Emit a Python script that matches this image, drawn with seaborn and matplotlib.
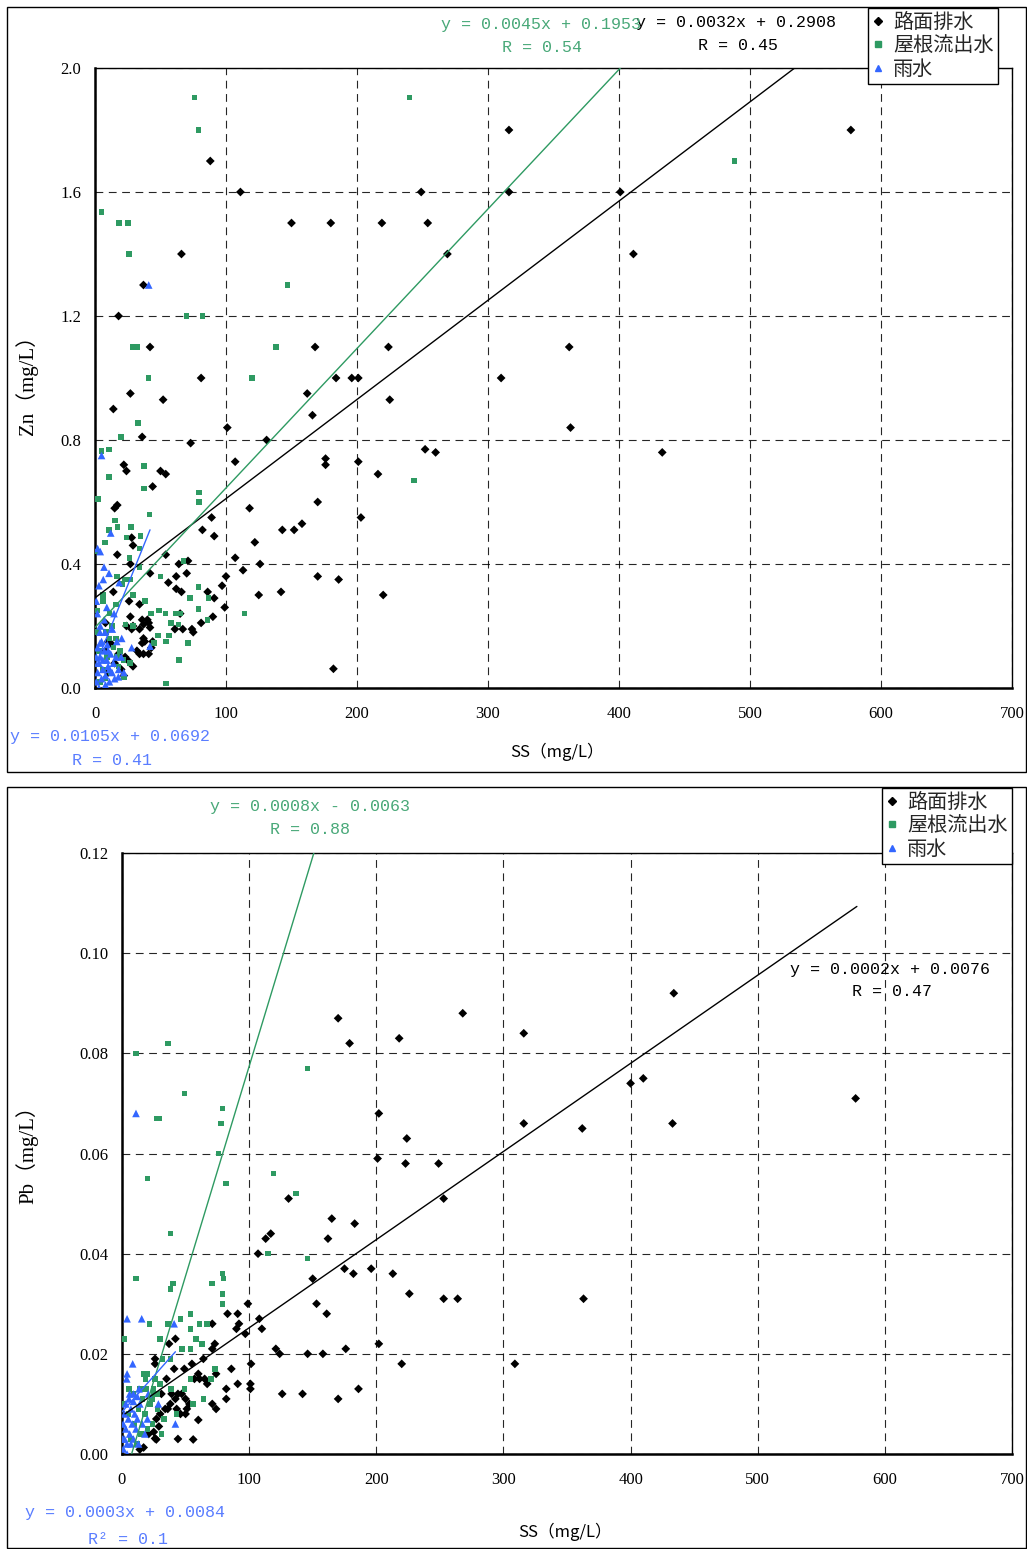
import numpy as np
import pandas as pd
import matplotlib
matplotlib.use("Agg")
import matplotlib.pyplot as plt
from matplotlib.patches import Rectangle
from matplotlib.lines import Line2D
import seaborn as sns

# ---------------------------------------------------------------- data
SERIES = ["路面排水", "屋根流出水", "雨水"]

# Zn vs SS
zn_road_ss = [577, 316, 88, 111, 249, 316, 401, 66, 269, 411, 150, 180, 219, 254, 18, 37, 42, 168, 224, 362,
              27, 81, 184, 196, 201, 310, 14, 52, 225, 162, 36, 73, 101, 166, 131, 363, 252, 260, 433, 176,
              176, 201, 107, 216, 22, 24, 50, 54, 44, 89, 118, 170, 203, 82, 91, 143, 152, 158, 15, 17,
              122, 29, 17, 28, 54, 27, 107, 113, 126, 64, 71, 70, 42, 62, 56, 62, 66, 100, 97, 170,
              186, 142, 125, 220, 86, 91, 99, 90, 81, 74, 75, 67, 65, 61, 14, 26, 34, 27, 36, 40,
              41, 37, 29, 24, 28, 34, 42, 8, 10, 13, 37, 38, 36, 44, 43, 32, 37, 41, 34, 18,
              23, 25, 29, 182, 10, 15, 20, 8, 22]
zn_road = [1.80, 1.80, 1.70, 1.60, 1.60, 1.60, 1.60, 1.40, 1.40, 1.40, 1.50, 1.50, 1.50, 1.50, 1.20, 1.30, 1.10, 1.10, 1.10, 1.10,
           0.95, 1.00, 1.00, 1.00, 1.00, 1.00, 0.90, 0.93, 0.93, 0.95, 0.81, 0.79, 0.84, 0.88, 0.80, 0.84, 0.77, 0.76, 0.76, 0.74,
           0.72, 0.73, 0.73, 0.69, 0.72, 0.70, 0.70, 0.69, 0.65, 0.55, 0.58, 0.60, 0.55, 0.51, 0.49, 0.51, 0.51, 0.53, 0.58, 0.59,
           0.47, 0.46, 0.43, 0.485, 0.43, 0.40, 0.42, 0.38, 0.40, 0.40, 0.41, 0.37, 0.37, 0.36, 0.34, 0.32, 0.31, 0.36, 0.33, 0.36,
           0.35, 0.31, 0.30, 0.30, 0.31, 0.29, 0.26, 0.23, 0.21, 0.19, 0.18, 0.19, 0.24, 0.19, 0.31, 0.28, 0.27, 0.23, 0.22, 0.22,
           0.21, 0.205, 0.20, 0.20, 0.19, 0.19, 0.195, 0.21, 0.15, 0.14, 0.16, 0.15, 0.145, 0.15, 0.13, 0.12, 0.11, 0.11, 0.11, 0.11,
           0.10, 0.09, 0.07, 0.062, 0.05, 0.08, 0.06, 0.12, 0.04]

zn_roof_ss = [76, 79, 240, 488, 5, 18.5, 25, 26, 70, 82, 147, 29, 32, 138, 41, 120, 33, 20, 243.5,
              10.7, 5, 37.6, 10.7, 37.4, 2.5, 79.6, 79.6, 41.5, 15.3, 10.7, 17.3, 27.3, 24.2, 34.9, 7.6, 33.8,
              26.2, 2.5, 33.8, 67.4, 16.6, 22.9, 21, 26.7, 50, 79, 29.2, 72.5, 86.5, 79, 86, 38, 16, 5.9,
              10.9, 114, 42.7, 48.9, 53.7, 61.3, 65.4, 23.4, 29.2, 58, 63.6, 2, 8.2, 48.3, 56.5, 54.2, 45, 71.2,
              64, 54.4, 21.6, 16.6, 26.7, 22, 3, 6, 9, 12, 14, 18, 4, 8, 11, 13, 2, 6, 16, 19]
zn_roof = [1.905, 1.80, 1.905, 1.70, 1.535, 1.50, 1.50, 1.40, 1.20, 1.20, 1.30, 1.10, 1.10, 1.10, 1.00, 1.00, 0.855, 0.81, 0.67,
           0.77, 0.765, 0.716, 0.68, 0.644, 0.61, 0.63, 0.60, 0.56, 0.54, 0.51, 0.52, 0.52, 0.485, 0.49, 0.47, 0.45,
           0.42, 0.44, 0.39, 0.41, 0.36, 0.35, 0.335, 0.35, 0.36, 0.325, 0.30, 0.29, 0.29, 0.255, 0.22, 0.28, 0.27, 0.28,
           0.24, 0.24, 0.24, 0.25, 0.24, 0.24, 0.24, 0.205, 0.20, 0.21, 0.205, 0.18, 0.18, 0.17, 0.17, 0.15, 0.145, 0.145,
           0.09, 0.015, 0.09, 0.10, 0.08, 0.036, 0.12, 0.06, 0.10, 0.05, 0.13, 0.07, 0.02, 0.03, 0.16, 0.20, 0.25, 0.30, 0.16, 0.12]

zn_rain_ss = [41, 5, 2, 4, 12, 6.9, 10.7, 6.3, 18.5, 14.5, 1.8, 13.2, 20.4, 28, 42, 3.8, 7.6, 3.8, 9.4, 16.6, 17.8,
              1, 2, 3, 4, 5, 6, 7, 8, 9, 10, 11, 12, 13, 14, 15, 16, 2, 5, 1, 3, 8, 11, 6, 10, 18, 20, 22,
              4, 7, 1, 3, 9]
zn_rain = [1.30, 0.75, 0.45, 0.44, 0.50, 0.39, 0.37, 0.35, 0.34, 0.24, 0.24, 0.19, 0.16, 0.13, 0.135, 0.18, 0.18, 0.145, 0.14, 0.15, 0.036,
           0.02, 0.05, 0.08, 0.10, 0.03, 0.06, 0.12, 0.04, 0.09, 0.07, 0.02, 0.11, 0.05, 0.08, 0.03, 0.10, 0.13, 0.15, 0.10, 0.0, 0.01, 0.06, 0.09, 0.12, 0.06, 0.10, 0.05,
           0.20, 0.22, 0.28, 0.33, 0.26]

# Pb vs SS
pb_road_ss = [434, 268, 170, 179, 316, 218, 577, 410, 400, 316, 433, 362, 202, 224, 201, 223, 249, 253, 131, 117,
              165, 183, 162, 113, 107, 213, 175, 182, 196, 150, 226, 253, 264, 363, 153, 161, 99, 202, 176, 146,
              158, 124, 220, 309, 101, 126, 142, 170, 186,
              83, 91, 92, 90, 97, 108, 110, 71, 73, 71, 42, 37, 26, 26, 41, 49, 55, 64, 60, 61,
              57, 65, 67, 74, 86, 91, 101, 82, 82, 74, 71, 101.5, 121,
              35, 31, 39, 44, 47, 50, 42, 38, 34, 43, 51, 53, 50, 46, 36, 30, 27, 29, 25, 21,
              26, 27, 44, 60, 56, 17, 14]
pb_road = [0.092, 0.088, 0.087, 0.082, 0.084, 0.083, 0.071, 0.075, 0.074, 0.066, 0.066, 0.065, 0.068, 0.063, 0.059, 0.058, 0.058, 0.051, 0.051, 0.044,
           0.047, 0.046, 0.043, 0.043, 0.040, 0.036, 0.037, 0.036, 0.037, 0.035, 0.032, 0.031, 0.031, 0.031, 0.030, 0.028, 0.030, 0.022, 0.021, 0.020,
           0.020, 0.020, 0.018, 0.018, 0.014, 0.012, 0.012, 0.011, 0.013,
           0.028, 0.028, 0.026, 0.025, 0.024, 0.027, 0.025, 0.026, 0.022, 0.021, 0.023, 0.022, 0.019, 0.018, 0.017, 0.017, 0.018, 0.019, 0.016, 0.015,
           0.015, 0.015, 0.014, 0.016, 0.017, 0.014, 0.013, 0.013, 0.011, 0.009, 0.010, 0.018, 0.021,
           0.015, 0.012, 0.012, 0.012, 0.012, 0.011, 0.011, 0.010, 0.009, 0.009, 0.009, 0.010, 0.008, 0.008, 0.009, 0.008, 0.007, 0.0055, 0.0044, 0.004,
           0.0031, 0.0029, 0.003, 0.0068, 0.0029, 0.0013, 0.0009]

pb_roof_ss = [11, 36, 49, 146, 27, 29, 79, 78, 76, 20, 82, 119, 137, 38, 146, 115, 11, 79, 80, 40,
              38, 71, 79, 79, 54, 61, 67, 46, 36, 21.5, 2, 30, 54, 58, 63, 47, 54, 38, 32, 73,
              70, 17.5, 20, 18.6, 54, 49, 38.5, 64, 56, 43, 33,
              2, 5, 9, 13, 16, 19, 22, 25, 28, 24, 20, 15, 10, 7, 12, 18, 26, 30, 14, 31,
              24.7, 28, 23.4, 5.5, 1]
pb_roof = [0.080, 0.082, 0.072, 0.077, 0.067, 0.067, 0.069, 0.066, 0.060, 0.055, 0.054, 0.056, 0.052, 0.044, 0.039, 0.040, 0.035, 0.036, 0.035, 0.034,
           0.033, 0.034, 0.032, 0.030, 0.028, 0.026, 0.026, 0.027, 0.026, 0.026, 0.023, 0.023, 0.025, 0.023, 0.022, 0.021, 0.021, 0.019, 0.019, 0.017,
           0.015, 0.016, 0.016, 0.015, 0.015, 0.013, 0.013, 0.011, 0.010, 0.008, 0.007,
           0.010, 0.008, 0.012, 0.009, 0.011, 0.013, 0.010, 0.012, 0.009, 0.006, 0.005, 0.004, 0.006, 0.003, 0.002, 0.008, 0.015, 0.014, 0.013, 0.004,
           0.013, 0.012, 0.011, 0.013, 0.010]

pb_rain_ss = [11, 4, 15.5, 41, 8.4, 4, 3.7, 13.4, 9, 5.5, 20.7, 28.6, 42, 20,
              1, 2, 3, 4, 5, 6, 7, 8, 9, 10, 11, 12, 13, 14, 2, 1, 3, 6, 16, 18, 4, 0.5, 9, 12, 7]
pb_rain = [0.068, 0.027, 0.027, 0.026, 0.018, 0.016, 0.015, 0.013, 0.012, 0.011, 0.012, 0.010, 0.006, 0.007,
           0.001, 0.003, 0.005, 0.002, 0.007, 0.004, 0.009, 0.006, 0.003, 0.008, 0.005, 0.007, 0.002, 0.010, 0.008, 0.006, 0.010, 0.012, 0.006, 0.004, 0.0, 0.003, 0.0105, 0.0115, 0.002]

# linear fits (order follows SERIES)
zn_fit_slope = [0.0032, 0.0045, 0.0105]
zn_fit_icpt = [0.2908, 0.1953, 0.0692]
zn_fit_xmin = [1, 0, 0]
zn_fit_xmax = [578, 488, 42]
zn_r_label = ["R", "R", "R"]
zn_r_value = ["0.45", "0.54", "0.41"]

pb_fit_slope = [0.000176, 0.000837, 0.000286]
pb_fit_icpt = [0.0076, -0.0063, 0.0084]
pb_fit_xmin = [2.4, 0, 0]
pb_fit_xmax = [578, 160, 42]
pb_r_label = ["R", "R", "R²"]
pb_r_value = ["0.47", "0.88", "0.1"]

x_ticks = [0, 100, 200, 300, 400, 500, 600, 700]
zn_ticks = [0.0, 0.4, 0.8, 1.2, 1.6, 2.0]
pb_ticks = [0.00, 0.02, 0.04, 0.06, 0.08, 0.10, 0.12]

# ---------------------------------------------------------------- style
sns.set_theme(style="white")
plt.rcParams["font.family"] = ["Liberation Serif", "Noto Sans CJK JP", "DejaVu Sans"]

W, H = 1027, 1549
MARK_COLORS = {"路面排水": "#000000", "屋根流出水": "#2e9a62", "雨水": "#3366ff"}
TEXT_COLORS = ["#000000", "#48a878", "#5a7dff"]
MARKERS = {"路面排水": "D", "屋根流出水": "s", "雨水": "^"}
SIZES = {"路面排水": 20, "屋根流出水": 16, "雨水": 30}
MONO = ["Liberation Mono", "DejaVu Sans Mono"]
CJK = ["Noto Sans CJK JP", "DejaVu Sans"]


def frame(series_xy):
    parts = []
    for name, (xs, ys) in zip(SERIES, series_xy):
        parts.append(pd.DataFrame({"SS": xs, "val": ys, "type": name}))
    return pd.concat(parts, ignore_index=True)


def px(x, y):
    return x / W, 1 - y / H


def eq_text(s, b):
    sign = "+" if b >= 0 else "-"
    return f"y = {s:.4f}x {sign} {abs(b):.4f}"


fig = plt.figure(figsize=(W / 100, H / 100), dpi=100)

# panel frames
for (x0, y0, x1, y1) in [(7, 7, 1026, 772), (7, 787, 1026, 1548)]:
    fig.patches.append(Rectangle((x0 / W, 1 - y1 / H), (x1 - x0) / W, (y1 - y0) / H,
                                 transform=fig.transFigure, fill=False,
                                 edgecolor="black", linewidth=1.0, zorder=0))

panels = [
    dict(rect=(95, 68, 1012, 688), data=frame([(zn_road_ss, zn_road), (zn_roof_ss, zn_roof), (zn_rain_ss, zn_rain)]),
         ylim=(0, 2.0), yticks=zn_ticks, yfmt="{:.1f}",
         slope=zn_fit_slope, icpt=zn_fit_icpt, xmin=zn_fit_xmin, xmax=zn_fit_xmax,
         rlab=zn_r_label, rval=zn_r_value, ylabel="Zn（mg/L）",
         ylab_pos=(27, 380), xlab_pos=(557, 752), leg=(868, 8),
         eq_pos=[(636, 22), (441, 24), (10, 737)], r_pos=[(698, 45), (502, 47), (72, 760)]),
    dict(rect=(122, 853, 1012, 1454), data=frame([(pb_road_ss, pb_road), (pb_roof_ss, pb_roof), (pb_rain_ss, pb_rain)]),
         ylim=(0, 0.12), yticks=pb_ticks, yfmt="{:.2f}",
         slope=pb_fit_slope, icpt=pb_fit_icpt, xmin=pb_fit_xmin, xmax=pb_fit_xmax,
         rlab=pb_r_label, rval=pb_r_value, ylabel="Pb（mg/L）",
         ylab_pos=(27, 1150), xlab_pos=(565, 1532), leg=(882, 788),
         eq_pos=[(790, 970), (210, 806), (25, 1513)], r_pos=[(852, 992), (270, 829), (88, 1540)]),
]

for p in panels:
    l, t, r, b = p["rect"]
    ax = fig.add_axes([l / W, 1 - b / H, (r - l) / W, (b - t) / H])
    ax.set_xlim(0, 700)
    ax.set_ylim(*p["ylim"])

    sns.scatterplot(data=p["data"], x="SS", y="val", hue="type", style="type", size="type",
                    hue_order=SERIES, style_order=SERIES, size_order=SERIES,
                    palette=MARK_COLORS, markers=MARKERS, sizes=SIZES,
                    edgecolor="none", linewidth=0, legend=False, ax=ax, zorder=3)

    for i, name in enumerate(SERIES):
        xs = np.array([p["xmin"][i], p["xmax"][i]])
        ax.plot(xs, p["slope"][i] * xs + p["icpt"][i], color=MARK_COLORS[name],
                linewidth=1.0, zorder=4)

    ax.set_xticks(x_ticks)
    ax.set_xticklabels([str(v) for v in x_ticks])
    ax.set_yticks(p["yticks"])
    ax.set_yticklabels([p["yfmt"].format(v) for v in p["yticks"]])
    ax.tick_params(axis="x", length=0, pad=13, labelsize=12, colors="black")
    ax.tick_params(axis="y", length=0, pad=10, labelsize=12, colors="black")
    ax.grid(True, color="black", linestyle=(0, (7, 5)), linewidth=0.8, alpha=0.85)
    ax.set_xlabel("")
    ax.set_ylabel("")
    for side in ["left", "bottom"]:
        ax.spines[side].set_linewidth(1.8)
        ax.spines[side].set_color("black")
    for side in ["top", "right"]:
        ax.spines[side].set_linewidth(1.0)
        ax.spines[side].set_color("black")

    fig.text(*px(*p["ylab_pos"]), p["ylabel"], rotation=90, ha="center", va="center",
             fontsize=15, color="black")
    fig.text(*px(*p["xlab_pos"]), "SS（mg/L）", ha="center", va="center",
             fontsize=12, color="black", family=CJK)

    for i in range(3):
        fig.text(*px(*p["eq_pos"][i]), eq_text(p["slope"][i], p["icpt"][i]),
                 ha="left", va="center", fontsize=12, color=TEXT_COLORS[i], family=MONO)
        fig.text(*px(*p["r_pos"][i]), f"{p['rlab'][i]} = {p['rval'][i]}",
                 ha="left", va="center", fontsize=12, color=TEXT_COLORS[i], family=MONO)

    handles = [Line2D([], [], linestyle="none", marker=MARKERS[n], color=MARK_COLORS[n],
                      markersize=4 if n != "雨水" else 5) for n in SERIES]
    lx, ly = px(*p["leg"])
    leg = fig.legend(handles, SERIES, loc="upper left", bbox_to_anchor=(lx, ly),
                     bbox_transform=fig.transFigure, frameon=True, fancybox=False,
                     edgecolor="black", framealpha=1, borderpad=0.2, labelspacing=0.12,
                     handlelength=0.6, handletextpad=0.45, borderaxespad=0,
                     prop={"family": CJK, "size": 14.5})
    leg.get_frame().set_linewidth(1.0)

fig.savefig("out.png", dpi=100)
